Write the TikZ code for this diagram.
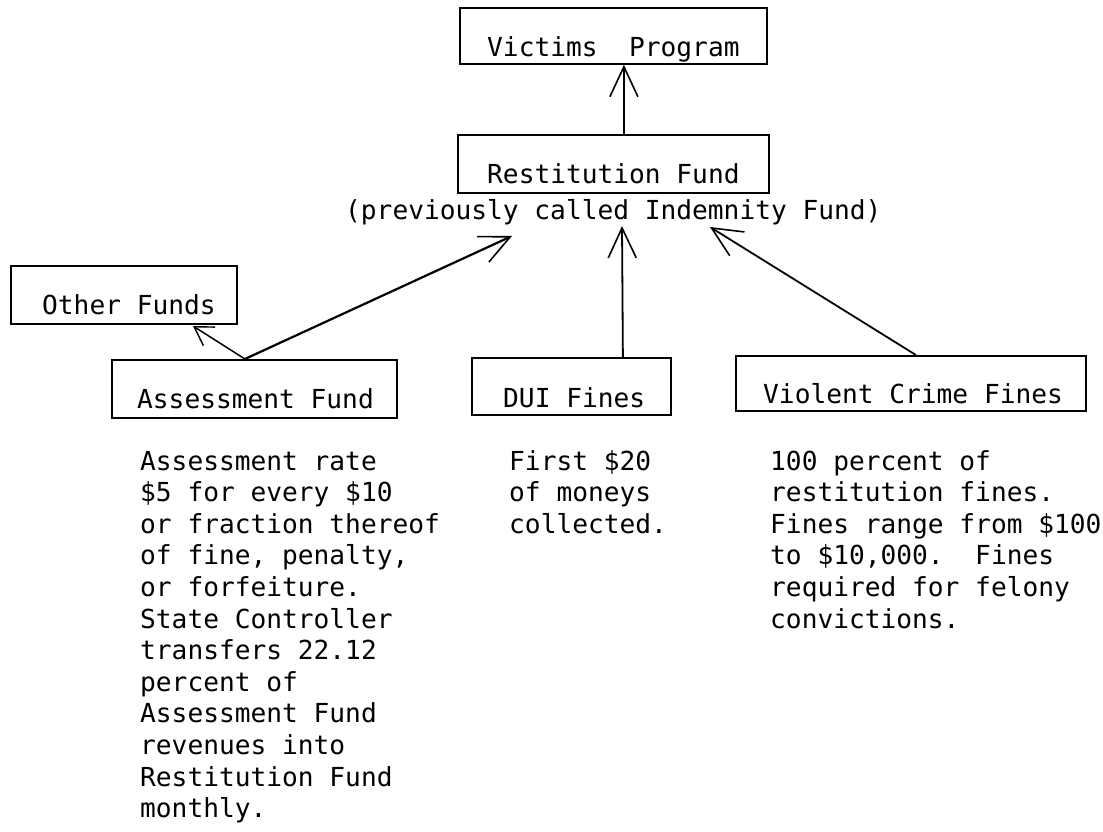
\documentclass[tikz,border=0pt]{standalone}
\usepackage{fontspec}
\setmonofont{DejaVu Sans Mono}
\usetikzlibrary{arrows.meta,calc}
\newcommand{\typew}{\ttfamily\fontsize{26.2}{31.6}\selectfont}
\newcommand{\linesblock}[1]{\begin{tabular}[t]{@{}l@{}}#1\end{tabular}}
\begin{document}
\begin{tikzpicture}[x=1pt,y=-1pt,
  box/.style={draw, line width=1.8pt, inner sep=0pt, anchor=north west},
  lbl/.style={anchor=base west, inner sep=0pt, font=\typew},
  body/.style={anchor=base west, inner sep=0pt, font=\typew},
  arr/.style={line width=1.8pt, -{Straight Barb[length=30pt,width=28pt,line width=1.6pt]}},
  arrs/.style={line width=1.5pt, -{Straight Barb[length=18pt,width=22pt,line width=1.4pt]}},
]
\fill[white] (0,0) rectangle (1103,832);
\useasboundingbox (0,0) rectangle (1103,832);

% boxes
\node[box, minimum width=307pt, minimum height=56pt] (vp)  at (459,7)   {};
\node[box, minimum width=311pt, minimum height=58pt] (rf)  at (457,134) {};
\node[box, minimum width=226pt, minimum height=58pt] (of)  at (10,265)  {};
\node[box, minimum width=285pt, minimum height=58pt] (af)  at (111,359) {};
\node[box, minimum width=199pt, minimum height=57pt] (dui) at (471,357) {};
\node[box, minimum width=350pt, minimum height=55pt] (vcf) at (735,355) {};

% box labels
\node[lbl] (vpt)  at (487,57)  {Victims\ \ Program};
\node[lbl] (rft)  at (487,183) {Restitution Fund};
\node[lbl] (rfs)  at (345,219) {(previously called Indemnity Fund)};
\node[lbl] (oft)  at (42,314)  {Other Funds};
\node[lbl] (aft)  at (137,408) {Assessment Fund};
\node[lbl] (duit) at (503,407) {DUI Fines};
\node[lbl] (vcft) at (763,403) {Violent Crime Fines};

% descriptions
\node[body] (afd) at (140,470) {\linesblock{Assessment rate\\
\$5 for every \$10\\
or fraction thereof\\
of fine, penalty,\\
or forfeiture.\\
State Controller\\
transfers 22.12\\
percent of\\
Assessment Fund\\
revenues into\\
Restitution Fund\\
monthly.}};
\node[body] (duid) at (509,470) {\linesblock{First \$20\\
of moneys\\
collected.}};
\node[body] (vcfd) at (770,470) {\linesblock{100 percent of\\
restitution fines.\\
Fines range from \$100\\
to \$10,000.\ \ Fines\\
required for felony\\
convictions.}};

% arrow tips below the subtitle
\coordinate (tipA) at (512,236);
\coordinate (tipD) at (622,226);
\coordinate (tipV) at (710,227);
\coordinate (tipO) at (193,326);

% connectors
\draw[arr] ([xshift=10.5pt]rf.north) -- ([xshift=10.5pt]vp.south);
\draw[arr, line width=2.2pt] ([xshift=-9.5pt]af.north) -- (tipA);
\draw[arrs] ([xshift=-9.5pt]af.north) -- (tipO);
\draw[arr] ([xshift=51.5pt]dui.north) -- (tipD);
\draw[arr] ([xshift=5pt]vcf.north) -- (tipV);
\end{tikzpicture}
\end{document}
